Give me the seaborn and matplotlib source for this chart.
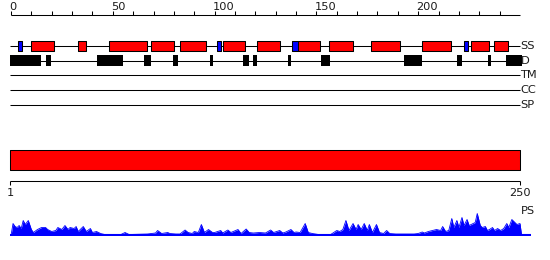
import matplotlib
matplotlib.use("Agg")
import matplotlib.pyplot as plt
import seaborn as sns
import pandas as pd

# ---------------- data ----------------
seq_len = 250
top_ticks = list(range(0, 250, 10))
top_labels = [0, 50, 100, 150, 200]

helix_start = [10, 33, 48, 69, 83, 104, 121, 141, 156, 177, 202, 226, 237]
helix_end   = [21, 37, 67, 80, 96, 115, 132, 152, 168, 191, 216, 235, 244]
strand_start = [3.6, 101, 138, 222.3]
strand_end   = [5.6, 103, 141, 224.5]
dis_start = [-0.5, 17.2, 42.4, 65.5, 79.8, 97.5, 113.8, 118.7, 136, 152.2, 193.1, 219, 234.5, 243.3]
dis_end   = [14.6, 19.6, 55, 68.8, 82.1, 99, 117.1, 121, 137.3, 156.7, 201.8, 221.5, 235.8, 251]

track_names = ["SS", "D", "TM", "CC", "SP"]

ps_pos = [0, 1, 2, 3, 4, 5, 6, 7, 8.5, 10, 11, 13, 15, 17, 18, 20, 22, 23, 25, 26.5,
          28, 29, 31, 32, 33, 35.5, 37, 39, 40, 42, 44, 46, 54, 56, 58, 67, 69, 71, 72, 74,
          77, 78, 81, 83, 85.5, 87, 89, 90, 92, 93.5, 95, 97, 99, 100, 103, 104, 106.5, 108,
          111.5, 113, 115.5, 117, 119, 122, 125, 127.5, 129, 132, 133.5, 135, 137.5, 139, 140,
          142, 144.5, 146, 148, 151, 157, 160, 161.5, 163, 164.5, 166, 168, 169.5, 170.5, 172,
          173.5, 175, 176, 177.5, 179.5, 181, 183, 184.5, 186, 189, 198, 200, 202, 203, 205,
          207, 209, 211, 212, 213.5, 215, 216.5, 217.5, 219, 220, 221.5, 222.5, 224, 225, 226,
          228, 229, 230.5, 231.5, 233, 234, 235, 236.5, 237.5, 239, 240.5, 242, 243.5, 244.5,
          246, 247.5, 248.5, 250, 250.8]
ps_val = [0, 12, 9, 8, 10, 7, 15, 11, 15, 6, 3, 6, 8, 8, 6, 4, 5, 8, 6, 10,
          6, 8, 7, 9, 4, 9, 4, 7, 3, 4, 2, 1, 1, 3, 1, 1.5, 2, 2.5, 5, 2,
          3, 2, 1.5, 1.5, 5.5, 3, 2, 4, 3, 11, 3, 6, 3, 3, 5, 2.5, 5.5, 3,
          6, 2, 6.5, 3, 2.5, 3, 2.5, 5.5, 3, 5, 2.5, 3.5, 6, 3, 3.5,
          3, 12, 3, 2, 1, 1, 5, 4, 6, 15, 5, 12, 6, 11, 6,
          12, 5, 11, 3, 11, 3, 2, 5, 2, 1.5, 1.5, 2, 3.5, 2.5, 4,
          5, 6, 5, 9, 4, 5, 17, 8, 15, 8, 18, 10, 16, 10, 11,
          13, 22, 10, 8, 9, 5, 6, 8, 5, 7, 5, 7, 12, 8,
          16, 13, 11, 12, 0]

# ---------------- figure ----------------
sns.set_theme(style="white")
plt.rcParams['font.family'] = ['DejaVu Sans']

W, H = 550, 260
fig = plt.figure(figsize=(W / 100, H / 100), dpi=100)
px_per_res = 2.036
x0_px = 11
xlim = (-x0_px / px_per_res, (W - x0_px) / px_per_res)

ax = fig.add_axes([0, 0, 1, 1])
ax.set_xlim(*xlim)
ax.set_ylim(H, 0)
ax.axis("off")

lw = 0.75
fs = 8.2
txtc = "#1a1a1a"

# top ruler
ax.hlines(15, 0, seq_len, color="black", lw=lw)
ax.vlines(top_ticks, 11, 15, color="black", lw=lw)
for t in top_labels:
    ax.text(t - 0.8, 6.5, str(t), ha="left", va="center", fontsize=fs, color=txtc)

# track rows
row_y = {"SS": 46, "D": 60.5, "TM": 75, "CC": 90, "SP": 105}
for name in track_names:
    y = row_y[name]
    ax.hlines(y, -0.5, seq_len, color="black", lw=lw, zorder=1)
    ax.text(seq_len + 0.2, y, name, ha="left", va="center", fontsize=fs, color=txtc)

ax.broken_barh([(s, e - s) for s, e in zip(helix_start, helix_end)], (40.8, 9.7),
               facecolors="#ff0000", edgecolors="black", linewidth=lw, zorder=2)
ax.broken_barh([(s, e - s) for s, e in zip(strand_start, strand_end)], (40.8, 9.7),
               facecolors="#0000ff", edgecolors="black", linewidth=lw, zorder=2)
ax.broken_barh([(s, e - s) for s, e in zip(dis_start, dis_end)], (55.3, 10.3),
               facecolors="black", edgecolors="black", linewidth=0, zorder=2)

# full-length domain bar
ax.broken_barh([(-0.5, seq_len + 0.5)], (150, 20), facecolors="#ff0000",
               edgecolors="black", linewidth=lw, zorder=2)

# bottom ruler
ax.hlines(180.5, -0.5, seq_len, color="black", lw=lw)
ax.vlines([-0.5, seq_len], 180.5, 185, color="black", lw=lw)
ax.text(-0.3, 193.5, "1", ha="center", va="center", fontsize=fs, color=txtc)
ax.text(seq_len, 193.5, str(seq_len), ha="center", va="center", fontsize=fs, color=txtc)
ax.text(seq_len + 0.2, 211, "PS", ha="left", va="center", fontsize=fs, color=txtc)

# PS profile
ps_ax = fig.add_axes([0, (H - 235.5) / H, 1, 30 / H])
ps_ax.set_xlim(*xlim)
ps_ax.set_ylim(0, 30)
ps_ax.axis("off")
df = pd.DataFrame({"pos": ps_pos, "ps": ps_val})
sns.lineplot(data=df, x="pos", y="ps", ax=ps_ax, color="#0000ff", lw=0.6)
ps_ax.fill_between(df["pos"], 0, df["ps"], color="#0000ff", lw=0)
ps_ax.hlines(0.3, -0.5, 255.4, color="#0000ff", lw=1.5)

fig.savefig("out.png", dpi=100)
